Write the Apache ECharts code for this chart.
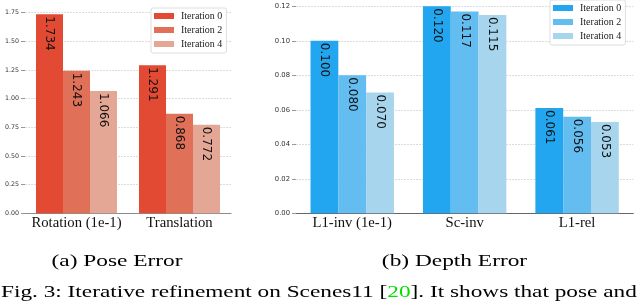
<!DOCTYPE html>
<html>
<head>
<meta charset="utf-8">
<script src="https://cdn.jsdelivr.net/npm/echarts@6/dist/echarts.min.js"></script>
<style>
html,body{margin:0;padding:0;background:#fff;}
#c{width:640px;height:302px;}
</style>
</head>
<body>
<div id="c"></div>
<script>
// ---- data ----
var seriesNames = ['Iteration 0', 'Iteration 2', 'Iteration 4'];
var poseCategories = ['Rotation (1e-1)', 'Translation'];
var poseIter0 = [1.734, 1.291];
var poseIter2 = [1.243, 0.868];
var poseIter4 = [1.066, 0.772];
var depthCategories = ['L1-inv (1e-1)', 'Sc-inv', 'L1-rel'];
var depthIter0 = [0.100, 0.120, 0.061];
var depthIter2 = [0.080, 0.117, 0.056];
var depthIter4 = [0.070, 0.115, 0.053];
var poseAxis = { min: 0, max: 1.75, interval: 0.25 };
var depthAxis = { min: 0, max: 0.12, interval: 0.02 };
var captionA = '(a) Pose Error';
var captionB = '(b) Depth Error';
var captionLine = ['Fig. 3: Iterative refinement on Scenes11 [', '20', ']. It shows that pose and'];

// ---- styles ----
var redColors = ['#e34a33', '#e07058', '#e5a795'];
var blueColors = ['#21a6ef', '#63bdf0', '#a7d5ee'];

var chart = echarts.init(document.getElementById('c'), null, { renderer: 'canvas' });

function barLabel() {
  return {
    show: true,
    position: 'insideTop',
    rotate: -90,
    align: 'left',
    verticalAlign: 'middle',
    distance: 2,
    fontFamily: 'DejaVu Sans',
    fontSize: 12,
    color: '#111',
    formatter: function (p) { return p.value.toFixed(3); }
  };
}

function makeSeries(names, datas, colors, idx, bw) {
  return datas.map(function (d, i) {
    return {
      type: 'bar',
      name: names[i],
      xAxisIndex: idx,
      yAxisIndex: idx,
      data: d,
      barWidth: bw,
      barGap: '0%',
      itemStyle: { color: colors[i] },
      label: barLabel(),
      emphasis: { disabled: true }
    };
  });
}

function yAxis(idx, ax, fs) {
  return {
    type: 'value',
    gridIndex: idx,
    min: ax.min, max: ax.max, interval: ax.interval,
    axisLine: { show: false },
    axisTick: { show: true, length: 4, lineStyle: { color: '#999', width: 1 } },
    axisLabel: {
      margin: 6, fontFamily: 'DejaVu Sans', fontSize: fs, color: '#333',
      formatter: function (v) { return v.toFixed(2); }
    },
    splitLine: { show: true, lineStyle: { color: '#dcdcdc', type: [2, 1], width: 1 } }
  };
}

function xAxis(idx, cats, lineColor) {
  return {
    type: 'category',
    gridIndex: idx,
    data: cats,
    axisLine: { show: true, lineStyle: { color: lineColor, width: 1 } },
    axisTick: { show: false },
    axisLabel: { interval: 0, hideOverlap: false, margin: 2, fontFamily: 'Liberation Serif', fontSize: 14.7, color: '#111' }
  };
}

function legend(left, top, colors) {
  return {
    orient: 'vertical',
    left: left, top: top,
    padding: [3, 4, 4, 3],
    itemWidth: 20, itemHeight: 6, itemGap: 4,
    icon: 'rect',
    backgroundColor: 'rgba(255,255,255,0.9)',
    borderColor: '#dddddd', borderWidth: 1, borderRadius: 2,
    textStyle: { fontFamily: 'Liberation Serif', fontSize: 10, color: '#222', padding: [0, 0, 0, 2] },
    selectedMode: false,
    data: seriesNames.map(function (n, i) { return { name: n, itemStyle: { color: colors[i] } }; })
  };
}

var option = {
  backgroundColor: '#ffffff',
  animation: false,
  grid: [
    { left: 25, right: 409, top: 12.5, bottom: 88.7 },
    { left: 296, right: 6.7, top: 6.3, bottom: 88.7 }
  ],
  xAxis: [xAxis(0, poseCategories, '#8c8c8c'), xAxis(1, depthCategories, '#666666')],
  yAxis: [yAxis(0, poseAxis, 6.3), yAxis(1, depthAxis, 6.8)],
  legend: [legend(151, 8, redColors), legend(550, 0, blueColors)],
  series: makeSeries(seriesNames, [poseIter0, poseIter2, poseIter4], redColors, 0, 27)
    .concat(makeSeries(seriesNames, [depthIter0, depthIter2, depthIter4], blueColors, 1, 27.8)),
  graphic: [
    { type: 'text', x: 117, y: 261.5, scaleX: 1.335, silent: true,
      style: { text: captionA, font: '17.5px "Liberation Serif"', fill: '#000', align: 'center', verticalAlign: 'middle' } },
    { type: 'text', x: 454.5, y: 261.5, scaleX: 1.335, silent: true,
      style: { text: captionB, font: '17.5px "Liberation Serif"', fill: '#000', align: 'center', verticalAlign: 'middle' } },
    { type: 'text', x: 1, y: 292.4, scaleX: 1.33, silent: true,
      style: {
        text: '{n|' + captionLine[0] + '}{g|' + captionLine[1] + '}{n|' + captionLine[2] + '}',
        align: 'left', verticalAlign: 'middle',
        rich: {
          n: { fontFamily: 'Liberation Serif', fontSize: 17.5, fill: '#000', color: '#000' },
          g: { fontFamily: 'Liberation Serif', fontSize: 17.5, fill: '#00e000', color: '#00e000' }
        }
      } }
  ]
};
chart.setOption(option);
</script>
</body>
</html>
